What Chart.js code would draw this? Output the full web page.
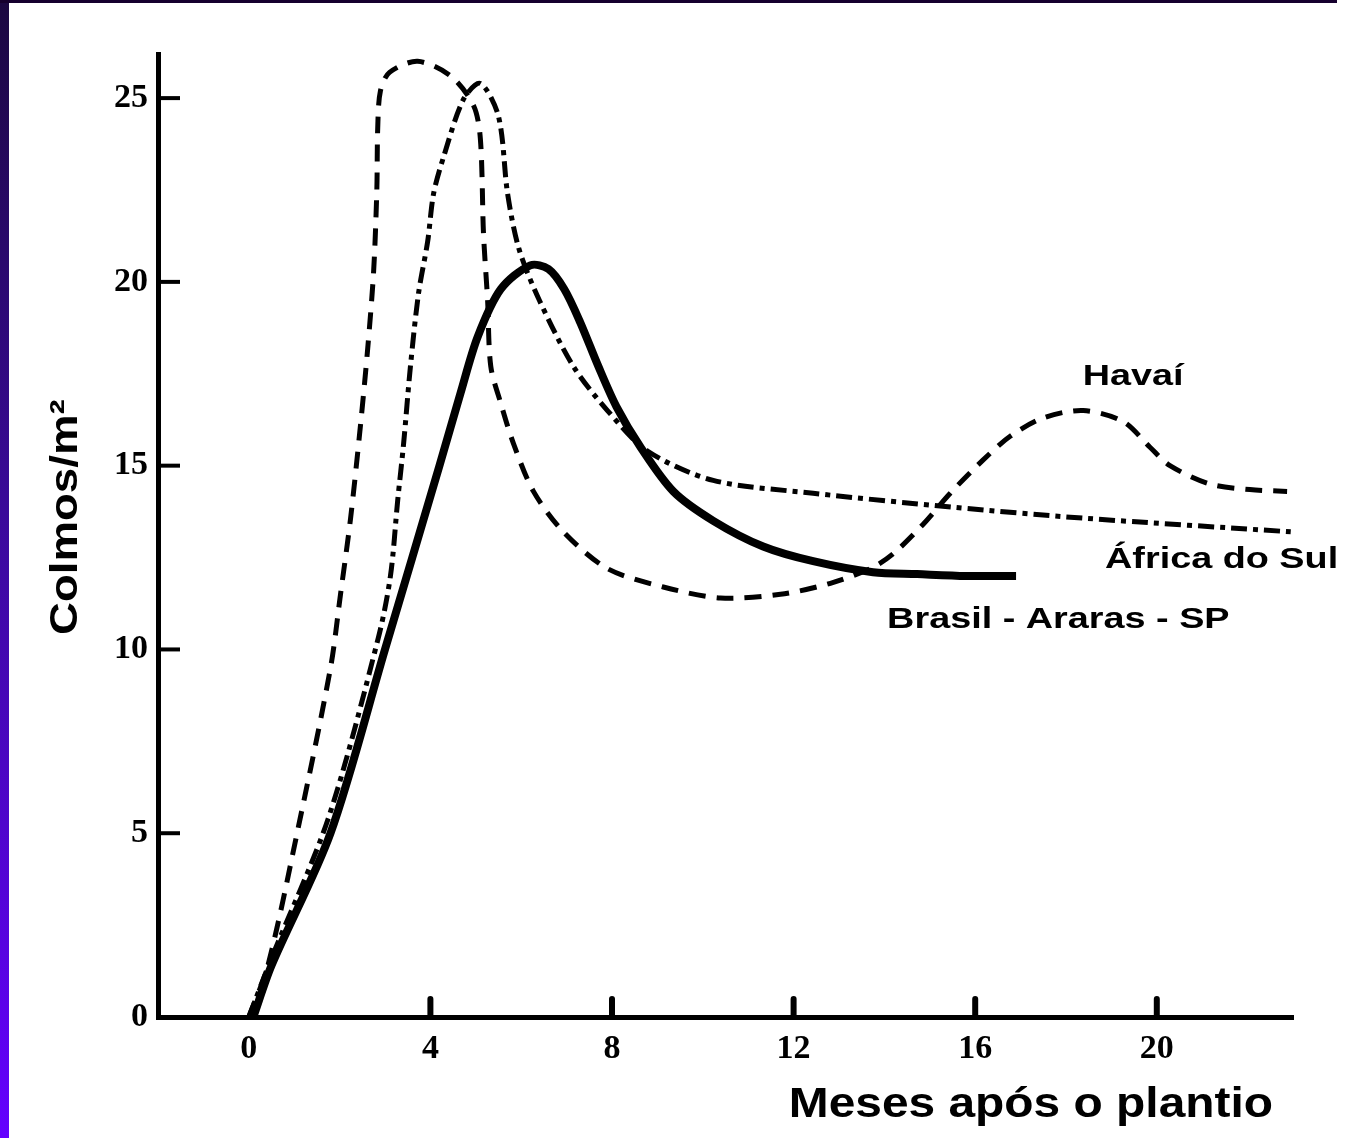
<!DOCTYPE html>
<html>
<head>
<meta charset="utf-8">
<script src="https://cdn.jsdelivr.net/npm/chart.js@4.4.1/dist/chart.umd.min.js"></script>
<style>
  html, body { margin: 0; padding: 0; background: #fff; }
  #wrap { position: relative; width: 1353px; height: 1138px; overflow: hidden; }
  #leftbar { position: absolute; left: 0; top: 0; width: 9px; height: 1138px;
             background: linear-gradient(#1b0840, #3a0a9a 45%, #6400ff); }
  #topbar { position: absolute; left: 0; top: 0; width: 1337px; height: 3px; background: #16002e; }
  canvas { position: absolute; left: 0; top: 0; }
</style>
</head>
<body>
<div id="wrap">
  <canvas id="myChart" width="1353" height="1138"></canvas>
  <div id="leftbar"></div>
  <div id="topbar"></div>
</div>
<script>
// meses após o plantio / colmos por m2
const xTicks = [0, 4, 8, 12, 16, 20];
const yTicks = [0, 5, 10, 15, 20, 25];

const havaiX = [0, 0.42, 1.08, 1.8, 2.02, 2.24, 2.46, 2.62, 2.75, 2.82, 2.84, 2.9, 3.1, 3.72, 4.45, 4.95, 5.1, 5.17, 5.26, 5.33, 5.55, 5.83, 6.27, 6.93, 7.9, 9.13, 10.39, 11.71, 12.81, 13.69, 14.19, 14.85, 15.45, 16.17, 16.77, 17.5, 18.38, 19.26, 19.85, 20.29, 21.17, 22.05, 22.87];
const havaiY = [0, 1.4, 5.1, 9.5, 11.5, 13.55, 16.1, 18.2, 20.3, 22.5, 24.2, 25.2, 25.7, 26.0, 25.6, 24.8, 23.9, 21.3, 19.5, 17.7, 16.7, 15.6, 14.3, 13.2, 12.2, 11.7, 11.4, 11.5, 11.8, 12.2, 12.6, 13.4, 14.25, 15.15, 15.8, 16.3, 16.5, 16.2, 15.5, 15.0, 14.5, 14.35, 14.3];

const africaX = [0, 0.5, 1.75, 2.85, 3.12, 3.28, 3.41, 3.56, 3.74, 3.94, 4.07, 4.29, 4.73, 5.1, 5.5, 5.7, 5.95, 6.4, 7.15, 7.9, 8.78, 10.23, 12.43, 15.5, 18.4, 22.95];
const africaY = [0, 1.6, 5.4, 10.3, 12.0, 14.06, 15.6, 17.7, 19.7, 21.1, 22.4, 23.4, 24.97, 25.4, 24.5, 22.4, 20.9, 19.5, 17.7, 16.5, 15.4, 14.6, 14.25, 13.87, 13.57, 13.2];

const brasilX = [0.1, 0.5, 1.8, 3.0, 4.2, 4.67, 5.04, 5.55, 6.2, 6.6, 6.95, 7.3, 7.7, 8.1, 8.63, 9.35, 10.23, 11.33, 12.43, 13.75, 14.72, 15.8, 16.9];
const brasilY = [0, 1.4, 5.0, 10.0, 15.0, 17.0, 18.5, 19.8, 20.45, 20.35, 19.8, 18.9, 17.7, 16.6, 15.5, 14.3, 13.5, 12.8, 12.4, 12.1, 12.05, 12.0, 12.0];

function toPoints(xs, ys) {
    return xs.map((x, i) => ({ x: x, y: ys[i] }));
}

// texto esticado na horizontal, como no original escaneado
function stretchText(ctx, text, x, y, sx, rot) {
    ctx.save();
    ctx.translate(x, y);
    if (rot) ctx.rotate(rot);
    ctx.scale(sx, 1);
    ctx.fillText(text, 0, 0);
    ctx.restore();
}

const extras = {
    id: 'extras',
    afterDraw(chart) {
        const ctx = chart.ctx;
        const xs = chart.scales.x;
        const ys = chart.scales.y;
        const area = chart.chartArea;

        ctx.save();
        ctx.strokeStyle = '#000';
        ctx.fillStyle = '#000';

        // marcas dos eixos, para dentro
        ctx.lineWidth = 4;
        yTicks.filter(v => v > 0).forEach(v => {
            const py = ys.getPixelForValue(v);
            ctx.beginPath();
            ctx.moveTo(area.left, py);
            ctx.lineTo(area.left + 22, py);
            ctx.stroke();
        });
        ctx.lineWidth = 6;
        ctx.lineCap = 'round';
        xTicks.filter(v => v > 0).forEach(v => {
            const px = xs.getPixelForValue(v);
            ctx.beginPath();
            ctx.moveTo(px, area.bottom);
            ctx.lineTo(px, area.bottom - 18);
            ctx.stroke();
        });

        // nomes das curvas
        ctx.font = 'bold 30px "Liberation Sans", Arial, sans-serif';
        ctx.textBaseline = 'middle';
        ctx.textAlign = 'center';
        stretchText(ctx, 'Havaí', xs.getPixelForValue(19.48), ys.getPixelForValue(17.41), 1.26);
        ctx.textBaseline = 'alphabetic';
        ctx.textAlign = 'left';
        stretchText(ctx, 'África do Sul', xs.getPixelForValue(18.86), ys.getPixelForValue(12.21), 1.26);
        stretchText(ctx, 'Brasil - Araras - SP', xs.getPixelForValue(14.06), ys.getPixelForValue(10.58), 1.26);

        // títulos dos eixos
        ctx.font = 'bold 42px "Liberation Sans", Arial, sans-serif';
        ctx.textAlign = 'right';
        stretchText(ctx, 'Meses após o plantio', area.right - 20, 1117, 1.14);
        ctx.font = 'bold 38px "Liberation Sans", Arial, sans-serif';
        ctx.textAlign = 'left';
        stretchText(ctx, 'Colmos/m²', 77, 635, 1.2, -Math.PI / 2);

        ctx.restore();
    }
};

const tickFont = { family: '"Liberation Serif", "DejaVu Serif", serif', weight: 'bold', size: 34 };

const ctx = document.getElementById('myChart').getContext('2d');
const myChart = new Chart(ctx, {
    type: 'scatter',
    data: {
        datasets: [
            {
                label: 'Havaí',
                data: toPoints(havaiX, havaiY),
                showLine: true,
                borderColor: '#000',
                borderWidth: 5,
                borderDash: [17, 11],
                tension: 0.3,
                pointRadius: 0
            },
            {
                label: 'África do Sul',
                data: toPoints(africaX, africaY),
                showLine: true,
                borderColor: '#000',
                borderWidth: 5,
                borderDash: [16, 6, 5, 6],
                tension: 0.3,
                pointRadius: 0
            },
            {
                label: 'Brasil - Araras - SP',
                data: toPoints(brasilX, brasilY),
                showLine: true,
                borderColor: '#000',
                borderWidth: 8,
                tension: 0.3,
                pointRadius: 0
            }
        ]
    },
    options: {
        responsive: false,
        animation: false,
        clip: false,
        layout: { padding: { top: 54, right: 60, left: 0, bottom: 0 } },
        plugins: {
            legend: { display: false },
            tooltip: { enabled: false }
        },
        scales: {
            x: {
                type: 'linear',
                min: -2,
                max: 23,
                afterFit: s => { s.height = 121; },
                afterBuildTicks: s => { s.ticks = xTicks.map(v => ({ value: v })); },
                grid: { display: false, drawTicks: false },
                border: { display: true, color: '#000', width: 5 },
                ticks: { color: '#000', font: tickFont, padding: 12, maxRotation: 0 }
            },
            y: {
                type: 'linear',
                min: 0,
                max: 26.2,
                afterFit: s => { s.width = 158; },
                afterBuildTicks: s => { s.ticks = yTicks.map(v => ({ value: v })); },
                grid: { display: false, drawTicks: false },
                border: { display: true, color: '#000', width: 5 },
                ticks: { color: '#000', font: tickFont, padding: 10 }
            }
        }
    },
    plugins: [extras]
});
</script>
</body>
</html>
